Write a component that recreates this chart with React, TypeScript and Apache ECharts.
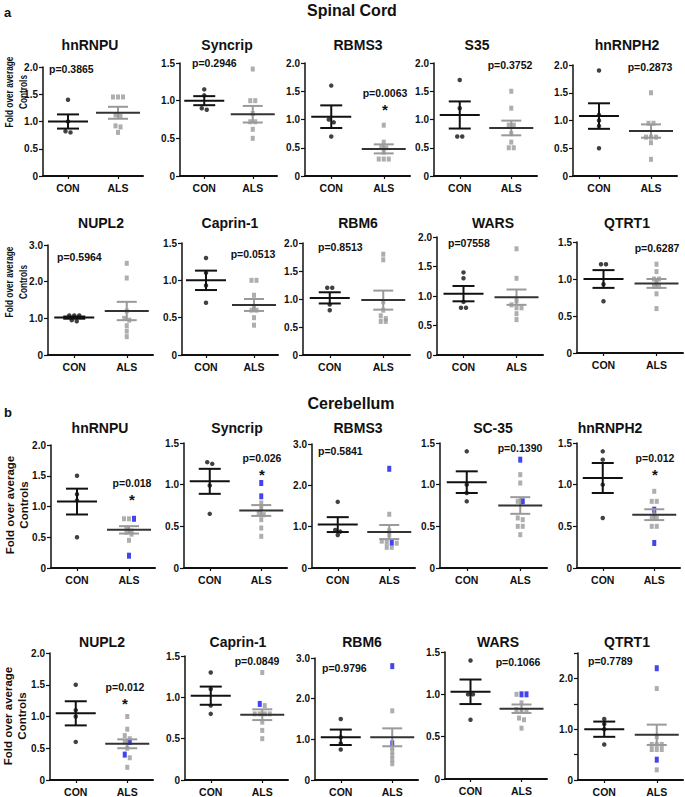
import React, { useEffect, useRef } from 'react';
import * as echarts from 'echarts';

const CATS = ['CON', 'ALS'];

const SPINAL_GENES = ['hnRNPU', 'Syncrip', 'RBMS3', 'S35', 'hnRNPH2', 'NUPL2', 'Caprin-1', 'RBM6', 'WARS', 'QTRT1'];
const CEREB_GENES = ['hnRNPU', 'Syncrip', 'RBMS3', 'SC-35', 'hnRNPH2', 'NUPL2', 'Caprin-1', 'RBM6', 'WARS', 'QTRT1'];

const SPINAL_YMAX = [2, 1.5, 2, 2, 2, 3, 1.5, 2, 2, 1.5];
const CEREB_YMAX = [2, 1.5, 3, 1.5, 1.5, 2, 1.5, 3, 1.5, 2.5];

const SPINAL_CON = [
  [1.4, 1.0, 0.82, 0.8],
  [1.15, 1.07, 0.9, 0.88],
  [1.6, 1.0, 0.95, 0.7],
  [1.7, 1.2, 0.7, 0.7],
  [1.9, 1.1, 1.0, 0.9, 0.5],
  [1.08, 1.08, 1.08, 0.95, 0.92],
  [1.3, 1.1, 0.93, 0.7],
  [1.2, 1.2, 0.9, 0.8],
  [1.4, 1.3, 0.9, 0.8, 0.8],
  [1.2, 1.2, 0.93, 0.7],
];
const SPINAL_ALS = [
  [1.45, 1.45, 1.45, 1.12, 1.1, 0.92, 0.9, 0.8],
  [1.42, 1.0, 1.0, 0.83, 0.72, 0.72, 0.62, 0.5],
  [0.9, 0.6, 0.52, 0.5, 0.42, 0.3, 0.3, 0.3],
  [1.5, 1.2, 0.9, 0.9, 0.75, 0.6, 0.5, 0.5],
  [1.5, 0.95, 0.95, 0.7, 0.7, 0.7, 0.6, 0.3],
  [2.5, 2.1, 1.2, 1.0, 0.95, 0.8, 0.65, 0.5],
  [1.0, 1.0, 0.8, 0.65, 0.6, 0.6, 0.5, 0.4],
  [1.8, 1.7, 0.95, 0.8, 0.7, 0.65, 0.6, 0.6],
  [1.8, 1.3, 0.92, 0.85, 0.8, 0.8, 0.7, 0.6],
  [1.2, 1.1, 1.0, 1.0, 0.95, 0.9, 0.9, 0.8, 0.6],
];
const SPINAL_ALS_BLUE: number[][] = [[], [], [], [], [], [], [], [], [], []];

const SPINAL_CON_MEAN = [1.0, 1.0, 1.05, 1.08, 1.08, 1.02, 1.0, 1.02, 1.04, 1.0];
const SPINAL_CON_SEM = [0.13, 0.06, 0.2, 0.24, 0.23, 0.03, 0.13, 0.1, 0.13, 0.12];
const SPINAL_ALS_MEAN = [1.16, 0.82, 0.48, 0.85, 0.81, 1.2, 0.67, 0.98, 0.98, 0.94];
const SPINAL_ALS_SEM = [0.11, 0.11, 0.08, 0.13, 0.12, 0.25, 0.08, 0.17, 0.13, 0.06];

const CEREB_CON = [
  [1.5, 1.2, 1.1, 0.5],
  [1.27, 1.25, 0.99, 0.65],
  [1.6, 0.92, 0.88, 0.8],
  [1.4, 1.0, 0.9, 0.8],
  [1.4, 1.3, 1.0, 0.6],
  [1.5, 1.1, 1.0, 0.6],
  [1.3, 1.1, 0.9, 0.8],
  [1.5, 1.05, 0.9, 0.75],
  [1.4, 1.0, 1.0, 0.7],
  [1.2, 1.1, 1.0, 0.7],
];
const CEREB_ALS = [
  [0.8, 0.8, 0.65, 0.6, 0.58, 0.55, 0.45],
  [0.78, 0.72, 0.66, 0.64, 0.58, 0.48, 0.38],
  [1.3, 0.9, 0.8, 0.65, 0.62, 0.6, 0.5, 0.5],
  [1.12, 1.02, 0.8, 0.6, 0.58, 0.5, 0.5, 0.4],
  [0.92, 0.8, 0.8, 0.65, 0.6, 0.6, 0.5, 0.5],
  [1.0, 0.8, 0.7, 0.65, 0.6, 0.5, 0.35, 0.2],
  [1.3, 0.9, 0.8, 0.8, 0.8, 0.8, 0.7, 0.6, 0.5],
  [1.7, 0.8, 0.7, 0.6, 0.5, 0.4],
  [1.0, 0.9, 0.82, 0.8, 0.8, 0.72, 0.7, 0.6],
  [1.8, 0.85, 0.7, 0.7, 0.7, 0.6, 0.6, 0.6, 0.2],
];
const CEREB_ALS_BLUE = [
  [0.8, 0.2],
  [1.02, 0.86],
  [2.4, 0.62],
  [1.3, 0.8],
  [0.7, 0.3],
  [0.6, 0.4],
  [0.92],
  [2.8, 0.9],
  [1.0, 1.0],
  [2.2, 0.4],
];

const CEREB_CON_MEAN = [1.08, 1.04, 1.05, 1.03, 1.08, 1.05, 1.02, 1.05, 1.03, 1.0];
const CEREB_CON_SEM = [0.21, 0.15, 0.18, 0.13, 0.18, 0.19, 0.11, 0.19, 0.145, 0.15];
const CEREB_ALS_MEAN = [0.62, 0.69, 0.87, 0.75, 0.64, 0.57, 0.79, 1.05, 0.83, 0.89];
const CEREB_ALS_SEM = [0.06, 0.065, 0.17, 0.1, 0.065, 0.07, 0.065, 0.22, 0.05, 0.2];

const SPINAL_P = ['p=0.3865', 'p=0.2946', 'p=0.0063', 'p=0.3752', 'p=0.2873', 'p=0.5964', 'p=0.0513', 'p=0.8513', 'p=07558', 'p=0.6287'];
const CEREB_P = ['p=0.018', 'p=0.026', 'p=0.5841', 'p=0.1390', 'p=0.012', 'p=0.012', 'p=0.0849', 'p=0.9796', 'p=0.1066', 'p=0.7789'];
const SPINAL_SIG = [false, false, true, false, false, false, false, false, false, false];
const CEREB_SIG = [true, true, false, false, true, true, false, false, false, false];

// ---- layout (pixels) ----
// [left, top, width, bottom] of each plot area
const PANELS: number[][] = [
  [43, 67, 100, 176], [180, 63, 97, 176], [305, 63, 105, 176], [434, 63, 103, 176], [573, 65, 104, 176],
  [48, 245, 105, 355], [182, 243, 96, 355], [303, 243, 107, 355], [437, 237, 106, 355], [577, 242, 106, 353],
  [51, 445, 104, 568], [184, 443, 103, 568], [312, 444, 103, 568], [440, 443, 107, 568], [577, 443, 103, 568],
  [50, 653, 103, 780], [185, 656, 103, 780], [315, 658, 103, 780], [445, 652, 102, 779], [578, 653, 105, 780],
];
const TITLE_POS: number[][] = [
  [90, 45], [227, 45], [358, 45], [477, 45], [627, 45],
  [101, 223], [230, 223], [358, 223], [493, 223], [627, 223],
  [100, 428], [237, 428], [358, 428], [493, 428], [610, 428],
  [102, 642], [238, 642], [362, 642], [498, 642], [627, 642],
];
const P_POS: any[] = [
  [49, 69, 'left'], [192, 63, 'left'], [385, 93, 'center'], [510, 65, 'center'], [650, 67, 'center'],
  [57, 257, 'left'], [253, 254, 'center'], [318, 247, 'left'], [448, 243, 'left'], [657, 248, 'center'],
  [132, 483, 'center'], [262, 458, 'center'], [318, 451, 'left'], [520, 448, 'center'], [655, 458, 'center'],
  [125, 687, 'center'], [257, 661, 'center'], [322, 668, 'left'], [518, 662, 'center'], [588, 661, 'left'],
];
const YNAME_POS: number[][] = [[16, 92], [16, 282], [17, 505], [15, 716]];
const YNAME_SCALE = [0.72, 0.72, 1, 1];

const FONT = '"Liberation Sans", Arial, Helvetica, sans-serif';

function jitter(items: { v: number; blue: boolean }[], tol: number, step: number) {
  const sorted = items.slice().sort((a, b) => b.v - a.v);
  const out: { v: number; blue: boolean; dx: number }[] = [];
  let i = 0;
  while (i < sorted.length) {
    let j = i + 1;
    while (j < sorted.length && sorted[i].v - sorted[j].v <= tol) j++;
    const n = j - i;
    for (let k = i; k < j; k++) out.push({ ...sorted[k], dx: (k - i - (n - 1) / 2) * step });
    i = j;
  }
  return out;
}

function txt(text: string, x: number, y: number, size: number, align = 'center', extra: any = {}) {
  return {
    type: 'text',
    x,
    y,
    z: 100,
    ...extra,
    style: {
      text,
      font: `bold ${size}px ${FONT}`,
      fill: '#111',
      align,
      textAlign: align,
      verticalAlign: 'middle',
      textVerticalAlign: 'middle',
      lineHeight: size + 2,
    },
  };
}

function buildOption() {
  const grid: any[] = [];
  const xAxis: any[] = [];
  const yAxis: any[] = [];
  const series: any[] = [];
  const graphic: any[] = [];

  const genes = [...SPINAL_GENES, ...CEREB_GENES];
  const ymax = [...SPINAL_YMAX, ...CEREB_YMAX];
  const con = [...SPINAL_CON, ...CEREB_CON];
  const als = [...SPINAL_ALS, ...CEREB_ALS];
  const alsBlue = [...SPINAL_ALS_BLUE, ...CEREB_ALS_BLUE];
  const conMean = [...SPINAL_CON_MEAN, ...CEREB_CON_MEAN];
  const conSem = [...SPINAL_CON_SEM, ...CEREB_CON_SEM];
  const alsMean = [...SPINAL_ALS_MEAN, ...CEREB_ALS_MEAN];
  const alsSem = [...SPINAL_ALS_SEM, ...CEREB_ALS_SEM];
  const pv = [...SPINAL_P, ...CEREB_P];
  const sig = [...SPINAL_SIG, ...CEREB_SIG];

  for (let g = 0; g < 20; g++) {
    const [left, top, width, bottom] = PANELS[g];
    const max = ymax[g];
    grid.push({ left, top, width, height: bottom - top, containLabel: false });
    xAxis.push({
      type: 'category',
      gridIndex: g,
      data: CATS,
      axisLine: { lineStyle: { color: '#111', width: 2 } },
      axisTick: { show: true, alignWithLabel: true, length: 3, lineStyle: { color: '#111', width: 1.2 } },
      axisLabel: { color: '#111', fontWeight: 'bold', fontSize: 10.5, fontFamily: FONT, margin: 6 },
      splitLine: { show: false },
    });
    const integerOnly = max === 2.5;
    yAxis.push({
      type: 'value',
      gridIndex: g,
      min: 0,
      max,
      interval: max === 3 ? 1 : 0.5,
      axisLine: { show: true, lineStyle: { color: '#111', width: 1.5 } },
      axisTick: { show: true, length: 4, lineStyle: { color: '#111', width: 1.2 } },
      splitLine: { show: false },
      axisLabel: {
        color: '#111',
        fontWeight: 'bold',
        fontSize: 10,
        fontFamily: FONT,
        margin: 5,
        showMaxLabel: true,
        formatter: (v: number) => {
          if (integerOnly && Math.abs(v - Math.round(v)) > 1e-6) return '';
          return v === 0 ? '0' : v.toFixed(1);
        },
      },
    });

    const tol = max * 0.03;
    const conPts = jitter(con[g].map((v) => ({ v, blue: false })), tol, 5);
    const alsPts = jitter(
      [...als[g].map((v) => ({ v, blue: false })), ...alsBlue[g].map((v) => ({ v, blue: true }))],
      tol,
      5
    );

    series.push({
      type: 'scatter',
      xAxisIndex: g,
      yAxisIndex: g,
      symbol: 'circle',
      symbolSize: 4.5,
      itemStyle: { color: '#111' },
      z: 3,
      silent: true,
      data: conPts.map((p) => ({ value: ['CON', p.v], symbolOffset: [p.dx, 0] })),
    });
    series.push({
      type: 'scatter',
      xAxisIndex: g,
      yAxisIndex: g,
      symbol: 'rect',
      symbolSize: [4, 5],
      itemStyle: { color: '#9a9a9a' },
      z: 3,
      silent: true,
      data: alsPts.filter((p) => !p.blue).map((p) => ({ value: ['ALS', p.v], symbolOffset: [p.dx, 0] })),
    });
    series.push({
      type: 'scatter',
      xAxisIndex: g,
      yAxisIndex: g,
      symbol: 'rect',
      symbolSize: [4, 6],
      itemStyle: { color: '#1414ee' },
      z: 4,
      silent: true,
      data: alsPts.filter((p) => p.blue).map((p) => ({ value: ['ALS', p.v], symbolOffset: [p.dx, 0] })),
    });
    series.push({
      type: 'custom',
      xAxisIndex: g,
      yAxisIndex: g,
      z: 5,
      silent: true,
      encode: { x: 0, y: 1 },
      data: [
        [0, conMean[g], conSem[g]],
        [1, alsMean[g], alsSem[g]],
      ],
      renderItem: (params: any, api: any) => {
        const c = api.value(0);
        const m = api.value(1);
        const s = api.value(2);
        const pm = api.coord([c, m]);
        const pt = api.coord([c, m + s]);
        const pb = api.coord([c, m - s]);
        const isAls = c === 1;
        const meanColor = isAls ? '#333' : '#111';
        const semColor = isAls ? '#9a9a9a' : '#111';
        const hw = isAls ? 22 : 20;
        const cw = isAls ? 10 : 11;
        const lw = 2;
        return {
          type: 'group',
          children: [
            { type: 'line', shape: { x1: pt[0], y1: pt[1], x2: pb[0], y2: pb[1] }, style: { stroke: semColor, lineWidth: lw } },
            { type: 'line', shape: { x1: pt[0] - cw, y1: pt[1], x2: pt[0] + cw, y2: pt[1] }, style: { stroke: semColor, lineWidth: lw } },
            { type: 'line', shape: { x1: pb[0] - cw, y1: pb[1], x2: pb[0] + cw, y2: pb[1] }, style: { stroke: semColor, lineWidth: lw } },
            { type: 'line', shape: { x1: pm[0] - hw, y1: pm[1], x2: pm[0] + hw, y2: pm[1] }, style: { stroke: meanColor, lineWidth: lw } },
          ],
        };
      },
    });

    // panel title
    graphic.push(txt(genes[g], TITLE_POS[g][0], TITLE_POS[g][1], 14));
    // p-value
    graphic.push(txt(pv[g], P_POS[g][0], P_POS[g][1], 10.5, P_POS[g][2]));
    if (sig[g]) {
      graphic.push(txt('*', P_POS[g][0], P_POS[g][1] + 16, 15, 'center'));
    }
  }

  // y-axis names (rotated; the spinal ones are condensed along the text direction)
  for (let r = 0; r < 4; r++) {
    const s = YNAME_SCALE[r];
    graphic.push({
      type: 'group',
      x: YNAME_POS[r][0],
      y: YNAME_POS[r][1],
      scaleY: s,
      children: [
        txt('Fold over average\nControls', 0, 0, 11.5, 'center', { rotation: Math.PI / 2 }),
      ],
    });
  }

  // section headers
  graphic.push(txt('Spinal Cord', 352, 10, 16, 'center'));
  graphic.push(txt('Cerebellum', 351, 403, 16, 'center'));
  graphic.push(txt('a', 4, 12, 13, 'left'));
  graphic.push(txt('b', 4, 412, 13, 'left'));

  return {
    animation: false,
    backgroundColor: '#ffffff',
    textStyle: { fontFamily: FONT },
    grid,
    xAxis,
    yAxis,
    series,
    graphic: { elements: graphic },
  };
}

export default function App() {
  const ref = useRef<HTMLDivElement>(null);
  useEffect(() => {
    document.body.style.margin = '0';
    if (!ref.current) return;
    const chart = echarts.init(ref.current, null, { renderer: 'svg' });
    chart.setOption(buildOption());
    return () => chart.dispose();
  }, []);
  return <div ref={ref} style={{ width: 685, height: 797, background: '#fff' }} />;
}
